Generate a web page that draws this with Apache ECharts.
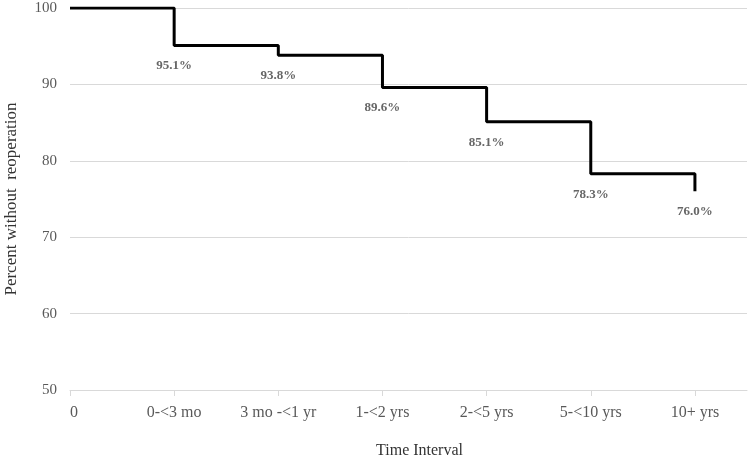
<!DOCTYPE html>
<html>
<head>
<meta charset="utf-8">
<script src="https://cdn.jsdelivr.net/npm/echarts@6/dist/echarts.min.js"></script>
<style>
  html, body { margin: 0; padding: 0; background: #fff; }
  #chart { width: 749px; height: 458px; }
</style>
</head>
<body>
<div id="chart"></div>
<script>
// Time intervals on the x axis
const intervals = ['0', '0-<3 mo', '3 mo -<1 yr', '1-<2 yrs', '2-<5 yrs', '5-<10 yrs', '10+ yrs'];
// Percent without reoperation at each interval
const percentFree = [100, 95.1, 93.8, 89.6, 85.1, 78.3, 76.0];
// Y axis ticks
const yTicks = [50, 60, 70, 80, 90, 100];

const serif = '"Liberation Serif", "DejaVu Serif", serif';
const chart = echarts.init(document.getElementById('chart'), null, { renderer: 'canvas' });

const xPositions = intervals.map((_, i) => i);
const points = percentFree.map((v, i) => [xPositions[i], v]);

chart.setOption({
    backgroundColor: '#fff',
    animation: false,
    grid: { left: 70, right: 2, top: 8, bottom: 68, outerBoundsMode: 'none' },
    xAxis: {
        type: 'value',
        min: 0,
        max: intervals.length - 0.5,
        name: 'Time Interval',
        nameLocation: 'middle',
        nameGap: 53,
        nameTextStyle: { fontFamily: serif, fontSize: 16, color: '#333', padding: [0, 0, 0, 22] },
        axisLine: { show: true, lineStyle: { color: '#d9d9d9', width: 1 } },
        axisTick: { show: true, length: 6, lineStyle: { color: '#d9d9d9' }, customValues: xPositions },
        axisLabel: {
            customValues: xPositions,
            margin: 15,
            alignMinLabel: 'left',
            fontFamily: serif,
            fontSize: 16,
            color: '#595959',
            formatter: (v) => intervals[Math.round(v)] ?? ''
        },
        splitLine: { show: false }
    },
    yAxis: {
        type: 'value',
        min: yTicks[0],
        max: yTicks[yTicks.length - 1],
        interval: 10,
        name: 'Percent without  reoperation',
        nameLocation: 'middle',
        nameGap: 50,
        nameTextStyle: { fontFamily: serif, fontSize: 17, color: '#333' },
        axisLine: { show: false },
        axisTick: { show: false },
        axisLabel: { margin: 13, fontFamily: serif, fontSize: 15, color: '#595959' },
        splitLine: { lineStyle: { color: '#d9d9d9', width: 1 } }
    },
    series: [{
        type: 'line',
        step: 'end',
        data: points,
        showSymbol: false,
        lineStyle: { color: '#000', width: 3 },
        z: 3
    }, {
        // invisible points carrying the percentage labels
        type: 'scatter',
        data: points.slice(1),
        symbolSize: 2,
        itemStyle: { color: 'rgba(0,0,0,0)' },
        label: {
            show: true,
            position: 'bottom',
            distance: 13,
            fontFamily: serif,
            fontSize: 13,
            fontWeight: 'bold',
            color: '#404040',
            formatter: (p) => p.value[1].toFixed(1) + '%'
        },
        z: 4
    }]
});
</script>
</body>
</html>
